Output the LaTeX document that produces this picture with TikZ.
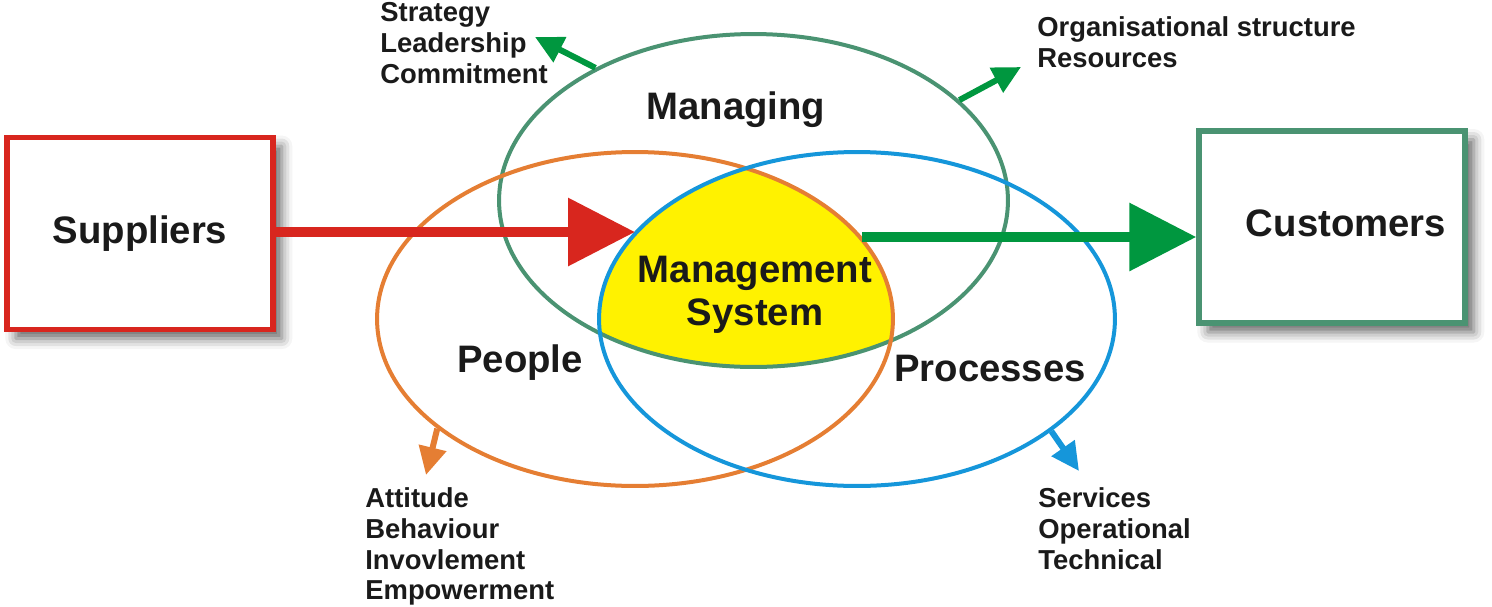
\documentclass[tikz,border=0pt]{standalone}
\usepackage{fontspec}
\setmainfont{Liberation Sans}
\usetikzlibrary{arrows.meta,shapes.geometric,shadows.blur}

\definecolor{supred}{HTML}{D8261E}
\definecolor{mangreen}{HTML}{4A9372}
\definecolor{arrgreen}{HTML}{00973F}
\definecolor{pplorange}{HTML}{E57E33}
\definecolor{procblue}{HTML}{1596DA}
\definecolor{msyellow}{HTML}{FFF200}
\definecolor{txt}{HTML}{1A1A1A}

\begin{document}
\begin{tikzpicture}[x=0.02cm,y=-0.02cm,
    bigtext/.style={font=\fontsize{21.8pt}{24.4pt}\selectfont\bfseries,text=txt,inner sep=0pt},
    smalltext/.style={font=\fontsize{15.6pt}{17.6pt}\selectfont\bfseries,text=txt,inner sep=0pt,align=left},
    partybox/.style={draw=#1,line width=0.11cm,fill=white,minimum width=5.32cm,minimum height=3.85cm,
      blur shadow={shadow xshift=5pt,shadow yshift=-5pt,shadow blur radius=6pt,shadow opacity=60}},
    ring/.style={ellipse,draw=#1,line width=0.08cm,inner sep=0pt},
    bigarrow/.style={draw=#1,line width=0.2cm,-{Triangle[length=1.34cm,width=1.32cm]}},
    smallarrow/.style={draw=#1,line width=0.12cm,-{Triangle[length=0.56cm,width=0.54cm]}}]
    \useasboundingbox (0,0) rectangle (1492,606);

    \node[partybox=supred,bigtext] (suppliers) at (140,233.5) {Suppliers};
    \node[partybox=mangreen] (customers) at (1332,227) {};
    \node[bigtext,anchor=base] (customers-label) at (1346,236) {Customers};

    \begin{scope}
    \clip (635,319) ellipse [x radius=5.16cm,y radius=3.34cm];
    \clip (857,319) ellipse [x radius=5.16cm,y radius=3.34cm];
    \fill[msyellow] (753.5,200.5) ellipse [x radius=5.09cm,y radius=3.33cm];
    \end{scope}

    \node[ring=mangreen,minimum width=10.18cm,minimum height=6.66cm] (managing) at (753.5,200.5) {};
    \node[ring=pplorange,minimum width=10.32cm,minimum height=6.68cm] (people) at (635,319) {};
    \node[ring=procblue,minimum width=10.32cm,minimum height=6.68cm] (processes) at (857,319) {};

    \node[bigtext,anchor=base] (managing-label) at (736,119) {Managing};
    \node[bigtext,anchor=base] (people-label) at (520,372) {People};
    \node[bigtext,anchor=base] (processes-label) at (990,381) {Processes};
    \node[bigtext,align=center,anchor=north] (ms-label) at (755,255.5) {Management\\System};

    \node[smalltext,anchor=north west] (managing-left) at (380,2) {Strategy\\Leadership\\Commitment};
    \node[smalltext,anchor=north west] (managing-right) at (1037,16) {Organisational structure\\Resources};
    \node[smalltext,anchor=north west] (people-notes) at (365,487) {Attitude\\Behaviour\\Invovlement\\Empowerment};
    \node[smalltext,anchor=north west] (processes-notes) at (1038,487) {Services\\Operational\\Technical};

    \coordinate (ms-in) at (635,232);
    \coordinate (ms-out) at (862,237);
    \coordinate (left-tip) at (535,37);
    \coordinate (right-tip) at (1021,67);
    \coordinate (people-tip) at (426,475);
    \coordinate (processes-tip) at (1079,471);

    \draw[bigarrow=supred] (suppliers.east |- ms-in) -- (ms-in);
    \draw[bigarrow=arrgreen] (ms-out) -- (customers.west |- ms-out);
    \draw[smallarrow=arrgreen] (managing.140) -- (left-tip);
    \draw[smallarrow=arrgreen] (managing.26) -- (right-tip);
    \draw[smallarrow=pplorange] (people.209) -- (people-tip);
    \draw[smallarrow=procblue] (processes.330) -- (processes-tip);
\end{tikzpicture}
\end{document}
